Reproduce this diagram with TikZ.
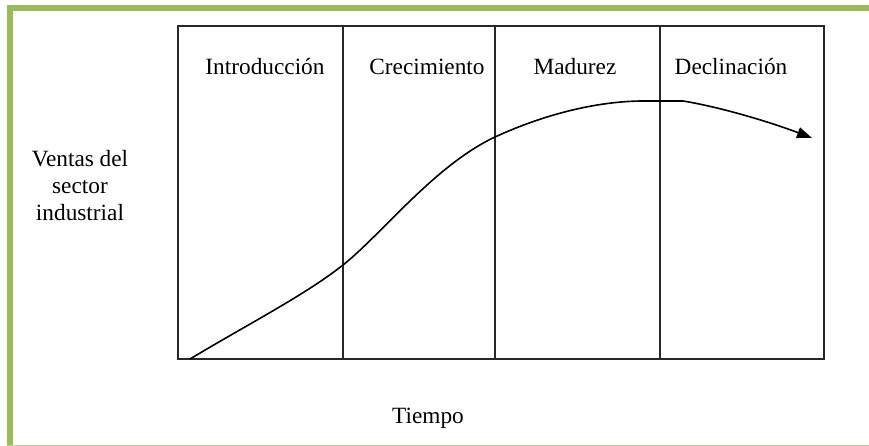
\documentclass[tikz,border=0pt]{standalone}
\usepackage{fontspec}
\setmainfont{Liberation Serif}
\usetikzlibrary{arrows.meta}
\definecolor{frameGreen}{RGB}{155,187,89}
\definecolor{frameLight}{RGB}{190,212,140}
\definecolor{lineGray}{RGB}{40,40,40}
\tikzset{
  boxline/.style={draw=lineGray, line width=1.6pt},
  curveline/.style={draw=black, line width=1.6pt},
  lbl/.style={font=\fontsize{23.3}{28}\selectfont, anchor=base, inner sep=0pt},
}
\begin{document}
\begin{tikzpicture}[x=1pt,y=-1pt]
\useasboundingbox (0,0) rectangle (869,446);
% green frame
\draw[frameGreen, line width=6pt] (9.5,446) -- (9.5,8) -- (869,8);
\draw[frameLight, line width=1.2pt] (7,445.4) -- (869,445.4);
% box
\coordinate (tl) at (178,26);
\coordinate (br) at (824,359);
\draw[boxline] (tl) rectangle (br);
\coordinate (d1t) at (343,26); \coordinate (d1b) at (343,359);
\coordinate (d2t) at (495,26); \coordinate (d2b) at (495,359);
\coordinate (d3t) at (660,26); \coordinate (d3b) at (660,359);
\draw[boxline] (d1t) -- (d1b);
\draw[boxline] (d2t) -- (d2b);
\draw[boxline] (d3t) -- (d3b);
% labels
\node[lbl] (intro) at (265,75) {Introducción};
\node[lbl] (crec) at (427,75) {Crecimiento};
\node[lbl] (mad) at (575,75) {Madurez};
\node[lbl] (decl) at (731,75) {Declinación};
\node[lbl] (v1) at (80,167) {Ventas del};
\node[lbl] (v2) at (80,194) {sector};
\node[lbl] (v3) at (80,221) {industrial};
\node[lbl] (tiempo) at (428,423) {Tiempo};
% curve
\coordinate (c0) at (190,359);
\coordinate (c1) at (343,265);
\coordinate (c2) at (495,137);
\coordinate (c3) at (650,101);
\coordinate (c4) at (683,101);
\coordinate (c5) at (812,138);
\draw[curveline, -{Triangle[length=15pt,width=11pt]}]
  (c0) .. controls (250,323) and (305,295) .. (c1)
       .. controls (381,235) and (435,165) .. (c2)
       .. controls (545,114) and (600,100) .. (c3)
       -- (c4)
       .. controls (720,107) and (770,122) .. (c5);
\end{tikzpicture}
\end{document}
